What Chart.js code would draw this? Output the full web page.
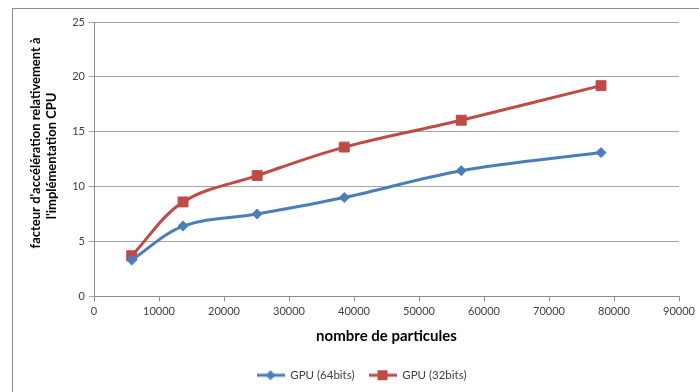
<!DOCTYPE html>
<html>
<head>
<meta charset="utf-8">
<script src="https://cdn.jsdelivr.net/npm/chart.js@4.4.0/dist/chart.umd.min.js"></script>
<style>
  html, body { margin: 0; padding: 0; background: #fff; overflow: hidden; }
  #frame { position: absolute; left: 12px; top: 8px; width: 720px; height: 420px; border: 1px solid #8c8c8c; }
  #tag { position: absolute; left: 13px; top: -23px; font: bold 22px/22px Lato, sans-serif; letter-spacing: 2px; color: #000; }
  canvas { position: absolute; left: 0; top: 0; }
</style>
</head>
<body>
<div id="tag">(b)</div>
<div id="frame"></div>
<canvas id="chart" width="699" height="392"></canvas>
<script>
// number of particles (x) and speed-up factors
const particles = [5800, 13700, 25100, 38500, 56500, 78000];
const gpu64 = [3.3, 6.4, 7.5, 9.0, 11.45, 13.1];
const gpu32 = [3.7, 8.6, 11.0, 13.6, 16.05, 19.2];
const seriesNames = ['GPU (64bits)', 'GPU (32bits)'];
// leading en spaces nudge each line a bit up the axis, like the original
const yTitle = ["\u2002\u2002\u2002\u2002\u2002facteur d'accélération relativement à", "\u2002l'implémentation CPU"];
const xTitle = 'nombre de particules';

const BLUE = '#4a7ebb';
const RED = '#be4b48';

// little legend icon: a line with the marker in the middle
function legendIcon(color, shape) {
  const c = document.createElement('canvas');
  c.width = 28; c.height = 12;
  const g = c.getContext('2d');
  g.strokeStyle = color;
  g.lineWidth = 3;
  g.beginPath(); g.moveTo(0, 6); g.lineTo(28, 6); g.stroke();
  g.fillStyle = color;
  if (shape === 'diamond') {
    g.beginPath(); g.moveTo(14, 1); g.lineTo(19, 6); g.lineTo(14, 11); g.lineTo(9, 6); g.closePath(); g.fill();
  } else {
    g.fillRect(9, 1, 10, 10);
  }
  return c;
}

const toPoints = (ys) => particles.map((x, i) => ({ x: x, y: ys[i] }));

// the legend sits a little right of the canvas centre in the original
const shiftLegend = {
  id: 'shiftLegend',
  afterLayout(chart) {
    chart.legend.left += 22;
    chart.legend.right += 22;
  },
};

const ctx = document.getElementById('chart').getContext('2d');
new Chart(ctx, {
  type: 'line',
  data: {
    datasets: [
      {
        label: seriesNames[0],
        data: toPoints(gpu64),
        borderColor: BLUE,
        backgroundColor: BLUE,
        borderWidth: 3,
        pointStyle: 'rectRot',
        pointRadius: 5,
        pointBorderWidth: 1,
        tension: 0.35,
        fill: false,
      },
      {
        label: seriesNames[1],
        data: toPoints(gpu32),
        borderColor: RED,
        backgroundColor: RED,
        borderWidth: 3,
        pointStyle: 'rect',
        pointRadius: 7,
        pointBorderWidth: 1,
        tension: 0.35,
        fill: false,
      },
    ],
  },
  plugins: [shiftLegend],
  options: {
    responsive: false,
    animation: false,
    layout: { padding: { top: 22, right: 20, left: 0, bottom: 1 } },
    plugins: {
      tooltip: { enabled: false },
      legend: {
        position: 'bottom',
        labels: {
          usePointStyle: true,
          pointStyleWidth: 28,
          boxHeight: 12,
          padding: 14,
          color: '#404040',
          font: { family: 'Lato', size: 11.5 },
          generateLabels: (chart) => chart.data.datasets.map((ds, i) => ({
            text: ds.label,
            datasetIndex: i,
            pointStyle: legendIcon(ds.borderColor, i === 0 ? 'diamond' : 'square'),
            fillStyle: ds.borderColor,
            strokeStyle: ds.borderColor,
            lineWidth: 0,
            fontColor: '#404040',
          })),
        },
      },
    },
    scales: {
      x: {
        type: 'linear',
        min: 0,
        max: 90000,
        ticks: {
          stepSize: 10000,
          color: '#404040',
          font: { family: 'Lato', size: 11 },
          padding: 4,
          maxRotation: 0,
          callback: (v) => String(v),
        },
        grid: { drawOnChartArea: false, drawTicks: true, tickLength: 5, color: '#8c8c8c' },
        border: { color: '#8c8c8c' },
        title: { display: true, text: xTitle, color: '#000', font: { family: 'Lato', size: 15, weight: 'bold' }, padding: { top: 5, bottom: 10 } },
      },
      y: {
        min: 0,
        max: 25,
        ticks: { stepSize: 5, color: '#404040', font: { family: 'Lato', size: 11 }, padding: 4 },
        grid: { color: '#a6a6a6', tickLength: 5 },
        border: { color: '#8c8c8c' },
        title: { display: true, text: yTitle, color: '#000', font: { family: 'Lato', size: 13, weight: 'bold', lineHeight: 1.23 }, padding: { top: 28, bottom: 0 } },
        afterFit: (scale) => { scale.width = 94; },
      },
    },
  },
});
</script>
</body>
</html>
